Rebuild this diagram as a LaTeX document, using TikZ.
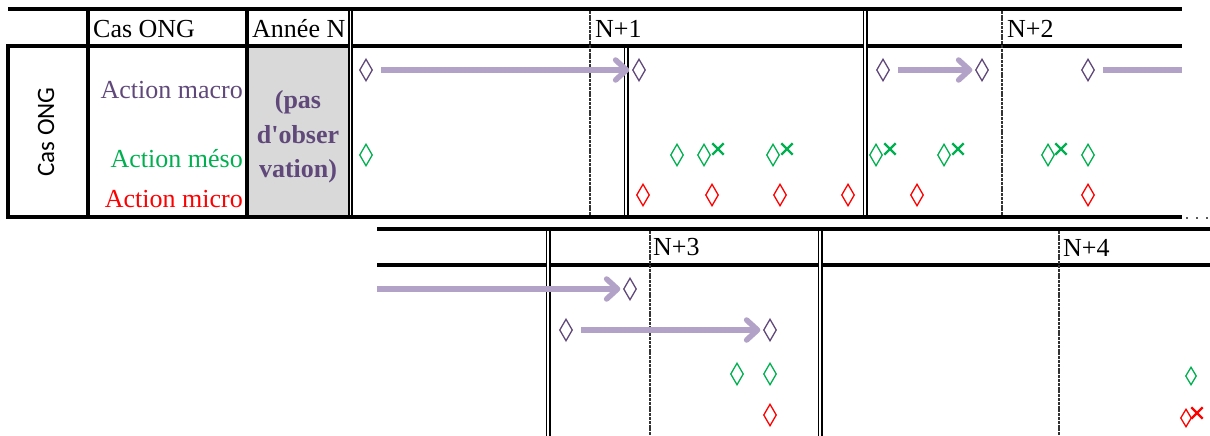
\documentclass[tikz,border=0pt]{standalone}
\usepackage{fontspec}
\setmainfont{Liberation Serif}
\newfontfamily\timesf{Liberation Serif}
\newfontfamily\calib{Carlito}
\usetikzlibrary{shapes.geometric,shapes.misc,arrows.meta}
\definecolor{purp}{HTML}{60497A}
\definecolor{lpurp}{HTML}{B3A2C7}
\definecolor{grn}{HTML}{00B050}
\definecolor{rd}{HTML}{FF0000}
\definecolor{cellgrey}{HTML}{D9D9D9}
\begin{document}
\begin{tikzpicture}[x=1pt,y=-1pt,
  thk/.style={line width=3.5pt},
  dbl/.style={double, double distance=1.8pt, line width=1.6pt},
  gdash/.style={gray!40!black, line width=1.7pt, dash pattern=on 3pt off 0.8pt},
  dia/.style={diamond, draw=#1, line width=1.3pt, inner sep=0pt, minimum width=13pt, minimum height=22pt},
  sdia/.style={dia=#1, minimum width=11pt, minimum height=18pt},
  xm/.style={cross out, draw=#1, line width=2.4pt, inner sep=0pt, minimum size=9pt},
  arr/.style={lpurp, line width=5.5pt, -{Straight Barb[length=11pt,width=20pt,round]}, shorten <=8pt, shorten >=2.5pt},
  bar/.style={lpurp, line width=5.5pt, shorten <=8pt},
  lbl/.style={font=\timesf\fontsize{26}{30}\selectfont, inner sep=0pt},
]
\useasboundingbox (0,0) rectangle (1210,436);
% shading
\fill[cellgrey] (249,48) rectangle (348.5,215.5);
% top table
\draw[thk] (8,9) -- (1182,9);
\draw[thk] (8,46) -- (1182,46);
\draw[thk] (8,217) -- (1182,217);
\draw[thk] (8,44.3) -- (8,218.7);
\draw[thk] (88,9) -- (88,217);
\draw[thk] (247,9) -- (247,217);
\draw[dbl] (350.5,10.8) -- (350.5,215.2);
\draw[gdash] (590,10.8) -- (590,215.2);
\draw[dbl] (626,47.8) -- (626,215.2);
\draw[dbl] (865,10.8) -- (865,215.2);
\draw[gdash] (1002,10.8) -- (1002,215.2);
\draw[gray!70!black, line width=2pt, dash pattern=on 2pt off 8pt] (1186,218) -- (1210,218);
% bottom table
\draw[thk] (377,229) -- (1210,229);
\draw[thk] (377,265) -- (1210,265);
\draw[dbl] (548,230.8) -- (548,436);
\draw[gdash] (650,230.8) -- (650,436);
\draw[dbl] (820,230.8) -- (820,436);
\draw[gdash] (1059,230.8) -- (1059,436);
% texts
\node[lbl, anchor=base west] (hcas) at (93,38) {Cas ONG};
\node[lbl, anchor=base west] (hann) at (252,38) {Année N};
\node[lbl, anchor=base west] (hn1) at (595,38) {N+1};
\node[lbl, anchor=base west] (hn2) at (1007,38) {N+2};
\node[lbl, anchor=base west] (hn3) at (653,255) {N+3};
\node[lbl, anchor=base west] (hn4) at (1063,256) {N+4};
\node[lbl, anchor=base east, text=purp] (lmac) at (243,99) {Action macro};
\node[lbl, anchor=base east, text=grn] (lmes) at (243,167) {Action méso};
\node[lbl, anchor=base east, text=rd] (lmic) at (243,207) {Action micro};
\node[font=\calib\fontsize{25}{30}\selectfont, rotate=90, inner sep=0pt] (vcas) at (46,132) {Cas ONG};
\node[font=\timesf\bfseries\fontsize{26}{34.5}\selectfont, text=purp, align=center, inner sep=0pt] (pas) at (298,137) {(pas\\d\textquotesingle obser\\vation)};
% top diamonds
\node[dia=purp] (m1) at (366,70) {};
\node[dia=purp] (m2) at (639,70) {};
\node[dia=purp] (m3) at (883,70) {};
\node[dia=purp] (m4) at (982,70) {};
\node[dia=purp] (m5) at (1088,70) {};
\coordinate (e1) at (1182,70);
\node[dia=grn] (g1) at (366,155) {};
\node[dia=grn] (g2) at (677,155) {};
\node[dia=grn] (g3) at (704,155) {};
\node[xm=grn] (x3) at (718,149) {};
\node[dia=grn] (g4) at (773,155) {};
\node[xm=grn] (x4) at (787,149) {};
\node[dia=grn] (g5) at (876,155) {};
\node[xm=grn] (x5) at (890,149) {};
\node[dia=grn] (g6) at (944,155) {};
\node[xm=grn] (x6) at (958,149) {};
\node[dia=grn] (g7) at (1048,155) {};
\node[xm=grn] (x7) at (1061,149) {};
\node[dia=grn] (g8) at (1088,155) {};
\node[dia=rd] (r1) at (643,195) {};
\node[dia=rd] (r2) at (712,195) {};
\node[dia=rd] (r3) at (780,195) {};
\node[dia=rd] (r4) at (848,195) {};
\node[dia=rd] (r5) at (917,195) {};
\node[dia=rd] (r6) at (1088,195) {};
% bottom diamonds
\coordinate (s1) at (377,289);
\node[dia=purp] (m6) at (630,289) {};
\node[dia=purp] (m7) at (566,330) {};
\node[dia=purp] (m8) at (770,330) {};
\node[dia=grn] (g9) at (737,374) {};
\node[dia=grn] (g10) at (770,374) {};
\node[sdia=grn] (g11) at (1191,376) {};
\node[dia=rd] (r7) at (770,415) {};
\node[sdia=rd] (r8) at (1186,418) {};
\node[xm=rd] (x8) at (1197,413) {};
% arrows
\draw[arr] (m1) -- (m2);
\draw[arr] (m3) -- (m4);
\draw[bar] (m5) -- (e1);
\draw[arr, shorten <=0pt] (s1) -- (m6);
\draw[arr] (m7) -- (m8);
\end{tikzpicture}
\end{document}
